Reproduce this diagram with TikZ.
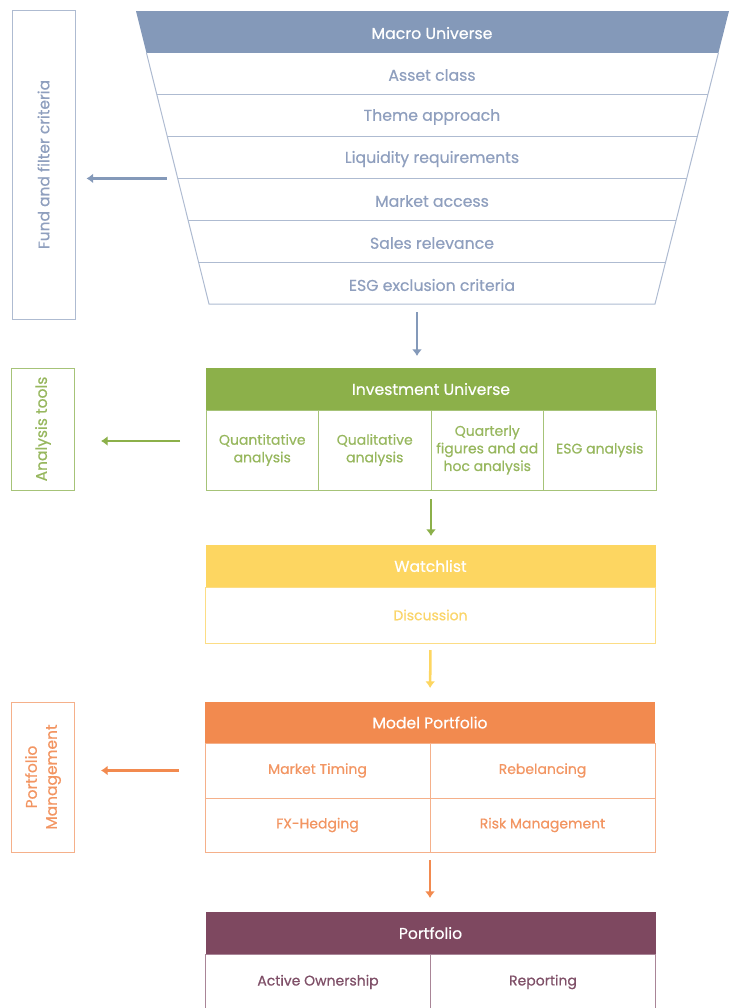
\documentclass[tikz,border=0pt]{standalone}
\usepackage{fontspec}
\setmainfont{Poppins}[FakeBold=0.6]
\usetikzlibrary{arrows.meta,calc,positioning}

\definecolor{bluefill}{HTML}{8499B9}
\definecolor{bluetext}{HTML}{8F9FBE}
\definecolor{blueline}{HTML}{AEBBD1}
\definecolor{greenfill}{HTML}{8CB04A}
\definecolor{greentext}{HTML}{97B75E}
\definecolor{greenline}{HTML}{A6C378}
\definecolor{yellowfill}{HTML}{FDD661}
\definecolor{yellowtext}{HTML}{FAD56A}
\definecolor{yellowline}{HTML}{FCDD85}
\definecolor{orangefill}{HTML}{F28A4F}
\definecolor{orangetext}{HTML}{F29562}
\definecolor{orangeline}{HTML}{F5B08A}
\definecolor{purplefill}{HTML}{7E4860}
\definecolor{purpletext}{HTML}{7F5068}
\definecolor{purpleline}{HTML}{A98597}

\begin{document}
\begin{tikzpicture}[x=0.75pt,y=-0.75pt,>={Latex[length=5pt,width=7.5pt]},
    head/.style={fill=#1fill, text=white, minimum width=337.5pt, minimum height=31.5pt,
        inner sep=0pt, outer sep=0pt, font=\fontsize{11.7}{13}\selectfont},
    rowtext/.style={text=bluetext, inner sep=0pt, font=\fontsize{11.8}{13}\selectfont},
    cell/.style={draw=#1line, line width=0.75pt, text=#1text, inner sep=0pt, outer sep=0pt,
        align=center, font=\fontsize{10.5}{13.2}\selectfont},
    sidebox/.style={draw=#1line, line width=0.75pt, text=#1text, rotate=90, minimum height=47.25pt,
        inner sep=0pt, align=center, font=\fontsize{11.6}{15}\selectfont},
    leftarrow/.style={->, draw=#1fill, line width=1.9pt},
    downarrow/.style={->, draw=#1fill, line width=1.9pt}]

    \path[use as bounding box] (0,0) rectangle (734,1008);
    \clip (0,0) rectangle (734,1008);

    % funnel
    \coordinate (ftl) at (136,11);
    \coordinate (ftr) at (729,11);
    \coordinate (fbl) at (209,304);
    \coordinate (fbr) at (655,304);
    \fill[bluefill] (ftl) -- (ftr) -- ($(ftr)!1/7!(fbr)$) -- ($(ftl)!1/7!(fbl)$) -- cycle;
    \draw[blueline, line width=0.75pt] ($(ftl)!1/7!(fbl)$) -- (fbl) -- (fbr) -- ($(ftr)!1/7!(fbr)$);
    \foreach \i in {2,...,6}
        \draw[blueline, line width=0.75pt] ($(ftl)!\i/7!(fbl)$) -- ($(ftr)!\i/7!(fbr)$);

    \node[rowtext, text=white] (macro) at (432,33) {Macro Universe};
    \foreach \lbl [count=\i] in {Asset class,Theme approach,Liquidity requirements,Market access,Sales relevance,ESG exclusion criteria}
        \node[rowtext] (row-\i) at (432,{33+42*\i}) {\lbl};

    \node[sidebox=blue, minimum width=231.75pt] (ffc) at (43.5,164.5) {Fund and filter criteria};
    \coordinate (fmid) at ($(ftl)!4/7!(fbl)$);
    \draw[leftarrow=blue, shorten <=8.25pt, shorten >=8.25pt] (fmid) -- (fmid -| ffc.south);

    \coordinate (fdown) at (417,304);

    % investment universe
    \node[head=green] (iu) at (431,389) {Investment Universe};
    \node[cell=green, minimum width=84.375pt, minimum height=60pt, anchor=north west] (qa) at (iu.south west) {Quantitative\\analysis};
    \node[cell=green, minimum width=84.375pt, minimum height=60pt, right=0pt of qa] (ql) {Qualitative\\analysis};
    \node[cell=green, minimum width=84.375pt, minimum height=60pt, right=0pt of ql] (qf) {Quarterly\\figures and ad\\hoc analysis};
    \node[cell=green, minimum width=84.375pt, minimum height=60pt, right=0pt of qf] (esg) {ESG analysis};

    \node[sidebox=green, minimum width=91.5pt] (at) at (43,429) {Analysis tools};
    \coordinate (ga) at ([yshift=6.75pt]qa.west);
    \draw[leftarrow=green, shorten <=19.5pt, shorten >=19.5pt] (ga) -- (ga -| at.south);

    \draw[downarrow=blue, shorten <=6pt, shorten >=9pt] (fdown) -- (fdown |- iu.north);

    % watchlist
    \node[head=yellow] (wl) at (430.5,566) {Watchlist};
    \node[cell=yellow, minimum width=337.5pt, minimum height=42pt, below=0pt of wl] (disc) {Discussion};

    \draw[downarrow=green, shorten <=6.75pt, shorten >=6.75pt] (ql.south east) -- (ql.south east |- wl.north);

    % model portfolio
    \node[head=orange, minimum height=30.75pt] (mp) at (430,722.5) {Model Portfolio};
    \node[cell=orange, minimum width=168.75pt, minimum height=41.25pt, anchor=north west] (mt) at (mp.south west) {Market Timing};
    \node[cell=orange, minimum width=168.75pt, minimum height=41.25pt, right=0pt of mt] (rb) {Rebelancing};
    \node[cell=orange, minimum width=168.75pt, minimum height=40.5pt, below=0pt of mt] (fx) {FX-Hedging};
    \node[cell=orange, minimum width=168.75pt, minimum height=40.5pt, below=0pt of rb] (rm) {Risk Management};

    \node[sidebox=orange, minimum width=112.5pt] (pm) at (43,777) {Portfolio\\Management};
    \draw[leftarrow=orange, shorten <=19.5pt, shorten >=19.5pt] (mt.west) -- (mt.west -| pm.south);

    \draw[downarrow=yellow, shorten <=5.25pt, shorten >=10.5pt] (disc.south) -- (mp.north);

    % portfolio
    \node[head=purple] (pf) at (430.5,933) {Portfolio};
    \node[cell=purple, minimum width=168.75pt, minimum height=42pt, anchor=north west] (ao) at (pf.south west) {Active Ownership};
    \node[cell=purple, minimum width=168.75pt, minimum height=42pt, right=0pt of ao] (rp) {Reporting};

    \draw[downarrow=orange, shorten <=6pt, shorten >=10.5pt] (fx.south east) -- (fx.south east |- pf.north);

\end{tikzpicture}
\end{document}
